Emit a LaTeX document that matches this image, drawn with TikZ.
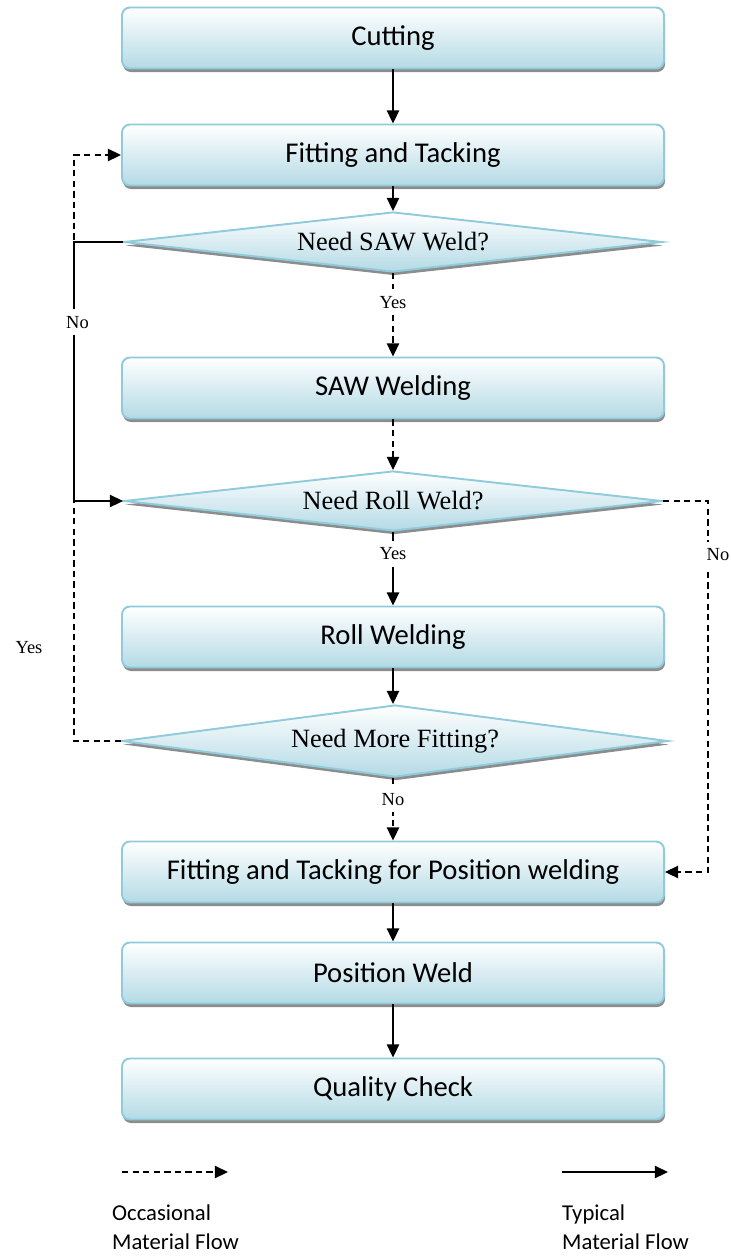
\documentclass[tikz,border=0pt]{standalone}
\usepackage{fontspec}
\setmainfont{Liberation Serif}
\newfontfamily\calibri{Carlito}
\usepackage{xcolor}
\usetikzlibrary{arrows.meta, positioning, shapes.geometric, shadows}

\definecolor{boxedge}{HTML}{8FCBDB}
\definecolor{boxfill}{HTML}{B4DAE5}

\begin{document}
\begin{tikzpicture}[
    procbox/.style={draw=boxedge, line width=1.1pt, rounded corners=4.5pt,
                minimum width=10.84cm, minimum height=1.22cm, align=center,
                top color=white, bottom color=boxfill,
                general shadow={fill=black!45, shadow xshift=0.6pt, shadow yshift=-2pt},
                font=\calibri\fontsize{16.3}{19}\selectfont},
    decide/.style={diamond, draw=boxedge, line width=1.1pt, aspect=9, inner sep=0pt,
                minimum width=10.76cm, minimum height=1.2cm,
                top color=white, bottom color=boxfill,
                general shadow={fill=black!45, shadow xshift=0.6pt, shadow yshift=-2pt},
                font=\fontsize{15}{18}\selectfont},
    flow/.style={-{Triangle[length=7.5pt, width=7pt]}, line width=0.9pt},
    occas/.style={flow, dash pattern=on 3.6pt off 2.4pt},
    answer/.style={font=\fontsize{10.5}{12}\selectfont, fill=white, inner xsep=1pt, inner ysep=4pt},
    legend/.style={font=\calibri\fontsize{12.9}{16.4}\selectfont, align=left, anchor=west},
]
\useasboundingbox (0,0) rectangle (14.6,-25.14);

\node[procbox] (cut)      at (7.86,-0.76)  {Cutting};
\node[procbox] (fit)      at (7.86,-3.10)  {Fitting and Tacking};
\node[decide]  (saw)      at (7.86,-4.84)  {Need SAW Weld?};
\node[procbox] (sawweld)  at (7.86,-7.76)  {SAW Welding};
\node[decide]  (roll)     at (7.86,-10.02) {Need Roll Weld?};
\node[procbox] (rollweld) at (7.86,-12.74) {Roll Welding};
\node[decide, minimum width=10.92cm, minimum height=1.44cm, aspect=7.6]
               (more)     at (7.90,-14.82) {Need More Fitting?};
\node[procbox] (posfit)   at (7.86,-17.44) {Fitting and Tacking for Position welding};
\node[procbox] (posweld)  at (7.86,-19.46) {Position Weld};
\node[procbox] (qc)       at (7.86,-21.78) {Quality Check};

% side rails
\coordinate (leftx)  at (1.48,0);
\coordinate (rightx) at (14.16,0);

% main line
\draw[flow] (cut) -- (fit);
\draw[flow] (fit) -- (saw);
\draw[occas] (saw) -- node[answer, pos=0.35] {Yes} (sawweld);
\draw[occas] (sawweld) -- (roll);
\draw[flow] (roll) -- node[answer, pos=0.3] {Yes} (rollweld);
\draw[flow] (rollweld) -- (rollweld |- more.north);
\draw[occas] (more.south -| posfit) -- node[answer, pos=0.34] {No} (posfit);
\draw[flow] (posfit) -- (posweld);
\draw[flow] (posweld) -- (qc);

% loop back for more fitting
\draw[occas] (more.west) -- (more.west -| leftx) |- (fit.west);
\node[font=\fontsize{10.5}{12}\selectfont] (yesback) at (0.58,-12.96) {Yes};

% skip SAW welding
\draw[flow] (saw.west) -- (saw.west -| leftx) |- node[answer, pos=0.155, xshift=2pt] {No} (roll.west);

% skip roll welding
\draw[occas] (roll.east) -- (roll.east -| rightx) |- (posfit.east);
\node[answer] (noroll) at (14.36,-11.1) {No};

% legend
\coordinate (occA) at (2.44,-23.44);
\coordinate (occB) at (4.56,-23.44);
\coordinate (typA) at (11.24,-23.44);
\coordinate (typB) at (13.36,-23.44);
\draw[occas] (occA) -- (occB);
\draw[flow] (typA) -- (typB);
\node[legend] (occtext) at (2.12,-24.55) {Occasional\\Material Flow};
\node[legend] (typtext) at (11.12,-24.55) {Typical\\Material Flow};

\end{tikzpicture}
\end{document}
